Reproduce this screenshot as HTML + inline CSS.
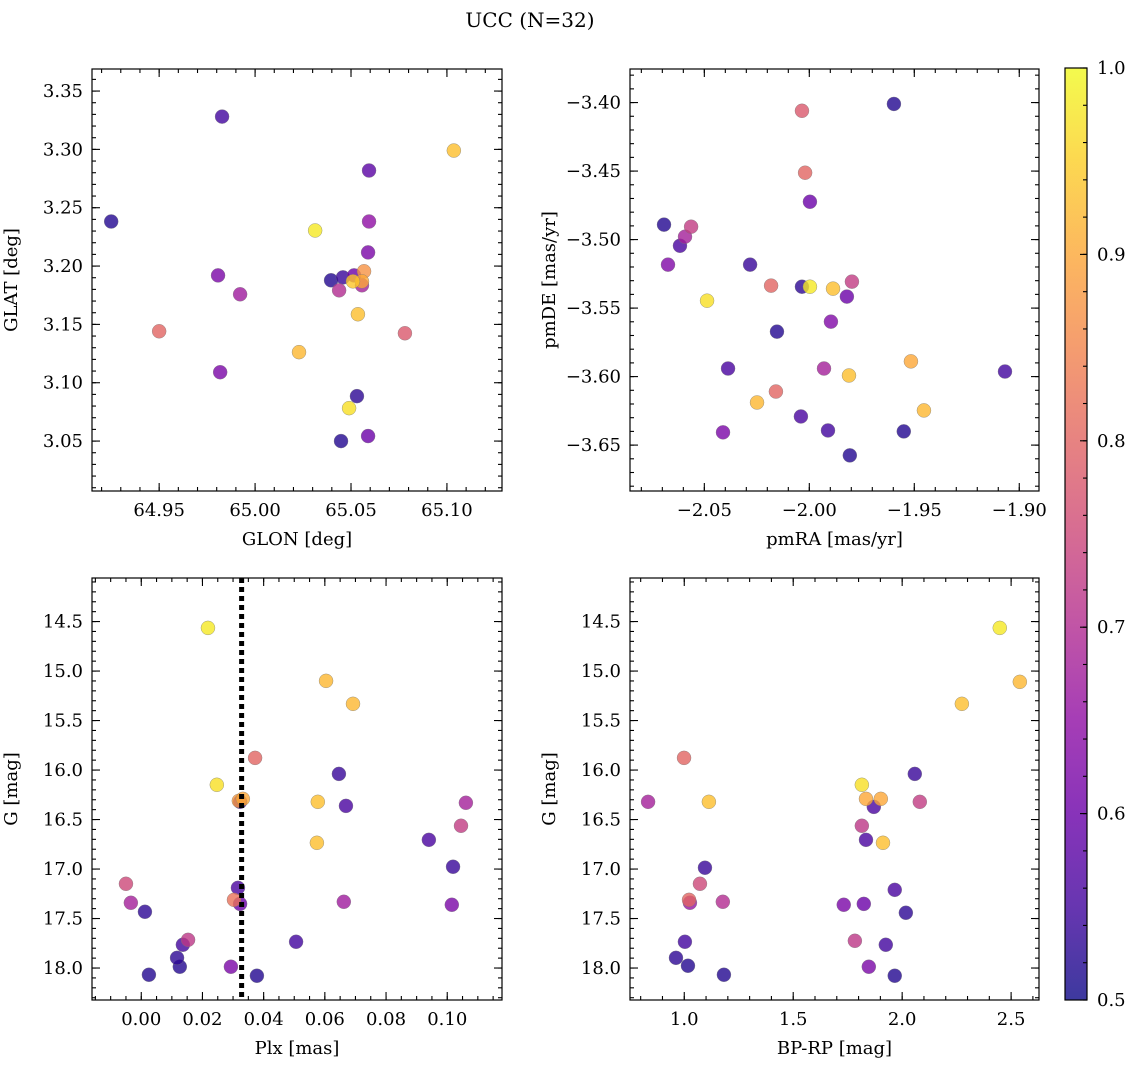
<!DOCTYPE html>
<html><head><meta charset="utf-8"><style>
body{margin:0;background:#fff;}
svg{display:block;font-family:"DejaVu Serif","Liberation Serif",serif;}
</style></head><body>
<svg id="fig" width="1136" height="1068" viewBox="0 0 1136 1068" xmlns="http://www.w3.org/2000/svg">
<rect width="1136" height="1068" fill="#fff"/>
<text x="530" y="27" font-size="20" text-anchor="middle">UCC (N=32)</text>
</svg>
<script>
// ---- data ----
const glonVals=[64.9828,65.1036,65.0594,64.925,65.0313,65.0594,65.0589,64.9807,64.9922,65.0396,65.0458,65.0516,65.0568,65.051,65.0557,65.0557,65.0438,65.0536,64.95,65.0781,65.0229,64.9818,65.0531,65.049,65.0448,65.0589];
const glatVals=[3.3281,3.299,3.2819,3.2382,3.2305,3.2382,3.2117,3.192,3.1758,3.1878,3.1903,3.192,3.1955,3.1869,3.1869,3.1835,3.1792,3.1587,3.1441,3.1424,3.1262,3.109,3.0885,3.0782,3.05,3.0543];
const probPos=[0.55,0.93,0.58,0.52,0.98,0.65,0.62,0.62,0.67,0.52,0.54,0.6,0.87,0.94,0.9,0.68,0.7,0.93,0.8,0.78,0.92,0.62,0.53,0.97,0.52,0.6];

const pmraVals=[-1.9597,-2.0035,-2.002,-1.9997,-2.0692,-2.0563,-2.0592,-2.0616,-2.0673,-2.0282,-2.0182,-2.0035,-1.9997,-1.9887,-1.9797,-1.9821,-2.0487,-2.0154,-1.9897,-1.9516,-2.0387,-1.993,-1.9811,-1.9068,-2.0159,-2.0249,-1.9454,-2.004,-2.0411,-1.9911,-1.955,-1.9807];
const pmdeVals=[-3.401,-3.406,-3.4512,-3.4724,-3.4891,-3.4906,-3.4979,-3.5045,-3.5183,-3.5183,-3.5336,-3.5344,-3.5344,-3.5358,-3.5307,-3.5416,-3.5446,-3.5672,-3.5599,-3.5889,-3.5941,-3.5941,-3.5992,-3.5963,-3.6109,-3.6189,-3.6247,-3.6291,-3.6407,-3.6393,-3.64,-3.6575];
const probPm=[0.52,0.78,0.8,0.6,0.52,0.73,0.68,0.56,0.63,0.54,0.8,0.53,0.98,0.93,0.73,0.6,0.97,0.52,0.63,0.9,0.56,0.68,0.93,0.55,0.8,0.92,0.92,0.56,0.62,0.55,0.52,0.52];

const plxVals=[0.0218,0.0604,0.0692,0.0372,0.0247,0.0332,0.0319,0.0646,0.0577,0.1061,0.0669,0.0323,0.0574,0.094,0.1045,0.1019,-0.005,-0.0034,0.0012,0.0316,0.0303,0.0323,0.0662,0.1015,0.0153,0.0136,0.0506,0.0117,0.0126,0.0293,0.0025,0.0378];
const gPlxVals=[14.564,15.099,15.331,15.877,16.149,16.291,16.311,16.039,16.321,16.331,16.362,16.321,16.735,16.705,16.563,16.977,17.149,17.341,17.432,17.19,17.311,17.352,17.331,17.361,17.715,17.765,17.735,17.897,17.987,17.987,18.068,18.078];
const probPlx=[0.98,0.92,0.92,0.8,0.97,0.9,0.88,0.54,0.93,0.68,0.56,0.55,0.93,0.56,0.73,0.54,0.75,0.68,0.53,0.56,0.82,0.6,0.67,0.62,0.72,0.55,0.55,0.53,0.52,0.62,0.52,0.52];
const plxLine=[0.0328];

const bprpVals=[2.448,2.540,2.274,0.999,2.058,1.815,1.834,1.902,1.870,0.834,1.113,2.081,1.815,1.834,1.912,1.095,1.966,1.072,1.022,1.026,1.177,1.732,1.824,2.017,1.783,1.003,1.925,0.962,1.017,1.847,1.182,1.966];
const gColVals=[14.564,15.109,15.331,15.877,16.039,16.149,16.291,16.291,16.372,16.321,16.321,16.321,16.563,16.705,16.735,16.987,17.21,17.149,17.311,17.341,17.331,17.361,17.352,17.442,17.725,17.735,17.765,17.897,17.977,17.987,18.068,18.078];
const probCol=[0.98,0.92,0.93,0.8,0.54,0.97,0.9,0.9,0.56,0.68,0.93,0.73,0.72,0.56,0.93,0.54,0.56,0.75,0.8,0.66,0.7,0.62,0.6,0.53,0.72,0.55,0.55,0.53,0.52,0.62,0.52,0.52];

const cbTicks=[0.5,0.6,0.7,0.8,0.9,1.0];

// ---- plumbing ----
const NS="http://www.w3.org/2000/svg";
const svg=document.getElementById('fig');
function mk(tag,attrs,parent){const e=document.createElementNS(NS,tag);for(const k in attrs)e.setAttribute(k,attrs[k]);(parent||svg).appendChild(e);return e;}
const stops=[[13,8,135],[65,4,157],[106,0,168],[143,13,164],[177,42,144],[204,71,120],[225,100,98],[242,132,75],[252,166,54],[252,206,37],[240,249,33]];
function plasma(t){t=Math.max(0,Math.min(1,t));const s=t*10,i=Math.min(9,Math.floor(s)),f=s-i;const a=stops[i],b=stops[i+1];return `rgb(${a.map((v,k)=>Math.round(v+(b[k]-v)*f)).join(',')})`;}
function cnorm(p){return (p-0.5)/0.5;}
function fmt(v,d){const s=Math.abs(v).toFixed(d);return (v<-1e-9?'−':'')+s;}
const FS=18;

function panel(name,box,xd,yd,xt,yt,xminor,yminor,xdec,ydec,xlabel,ylabel,xs,ys,ps,invert){
  const [L,T,R,B]=box;
  const X=v=>L+(v-xd[0])/(xd[1]-xd[0])*(R-L);
  const Y=invert?v=>T+(v-yd[0])/(yd[1]-yd[0])*(B-T):v=>B-(v-yd[0])/(yd[1]-yd[0])*(B-T);
  const g=mk('g',{});
  
  
  const idx=ps.map((p,i)=>i).sort((a,b)=>ps[a]-ps[b]);
  for(const i of idx){
    const c=mk('circle',{cx:X(xs[i]),cy:Y(ys[i]),r:7,fill:plasma(cnorm(ps[i])),'fill-opacity':0.8,stroke:'#777','stroke-width':0.5,'stroke-opacity':0.7},g);
    
    
  }
  const ax=mk('g',{stroke:'#000','stroke-width':1.1},g);
  
  
  function ticks(step,len,isX){
    const d=isX?xd:yd;const st=Math.ceil((d[0]-1e-9)/step);
    for(let k=st;k*step<=d[1]+1e-9;k++){const v=k*step;
      if(isX){const x=X(v);mk('line',{x1:x,x2:x,y1:B,y2:B-len},ax);mk('line',{x1:x,x2:x,y1:T,y2:T+len},ax);}
      else{const y=Y(v);mk('line',{x1:L,x2:L+len,y1:y,y2:y},ax);mk('line',{x1:R,x2:R-len,y1:y,y2:y},ax);}
    }}
  ticks(xminor,4,true);ticks(yminor,4,false);
  for(const v of xt){const x=X(v);mk('line',{x1:x,x2:x,y1:B,y2:B-8},ax);mk('line',{x1:x,x2:x,y1:T,y2:T+8},ax);
    const t=mk('text',{x:x,y:B+25,'font-size':FS,'text-anchor':'middle'},g);t.textContent=fmt(v,xdec);
    }
  for(const v of yt){const y=Y(v);mk('line',{x1:L,x2:L+8,y1:y,y2:y},ax);mk('line',{x1:R,x2:R-8,y1:y,y2:y},ax);
    const t=mk('text',{x:L-9,y:y+6,'font-size':FS,'text-anchor':'end'},g);t.textContent=fmt(v,ydec);
    }
  mk('rect',{x:L,y:T,width:R-L,height:B-T,fill:'none',stroke:'#000','stroke-width':1.2},g);
  const xl=mk('text',{x:(L+R)/2,y:B+54,'font-size':FS,'text-anchor':'middle'},g);xl.textContent=xlabel;
  
  const yx=L-75,yy=(T+B)/2;
  const yl=mk('text',{x:yx,y:yy,'font-size':FS,'text-anchor':'middle',transform:`rotate(-90 ${yx} ${yy})`},g);yl.textContent=ylabel;
  
  return {X,Y,g,T,B};
}

panel('glon-glat-panel',[92,69,502,491],[64.915,65.1287],[3.0072,3.3689],[64.95,65.0,65.05,65.10],[3.05,3.10,3.15,3.20,3.25,3.30,3.35],0.01,0.01,2,2,'GLON [deg]','GLAT [deg]',glonVals,glatVals,probPos,false);
panel('pm-panel',[630,69,1039,491],[-2.0854,-1.8906],[-3.6835,-3.3755],[-2.05,-2.0,-1.95,-1.90],[-3.65,-3.60,-3.55,-3.50,-3.45,-3.40],0.01,0.01,2,2,'pmRA [mas/yr]','pmDE [mas/yr]',pmraVals,pmdeVals,probPm,false);
const p3=panel('plx-g-panel',[92,578,502,1000],[-0.0161,0.1179],[14.06,18.323],[0.0,0.02,0.04,0.06,0.08,0.10],[14.5,15.0,15.5,16.0,16.5,17.0,17.5,18.0],0.005,0.1,2,1,'Plx [mas]','G [mag]',plxVals,gPlxVals,probPlx,true);
panel('cmd-panel',[630,578,1039,1000],[0.751,2.628],[14.06,18.323],[1.0,1.5,2.0,2.5],[14.5,15.0,15.5,16.0,16.5,17.0,17.5,18.0],0.1,0.1,1,1,'BP-RP [mag]','G [mag]',bprpVals,gColVals,probCol,true);
for(const v of plxLine){const x=p3.X(v);
  const l=mk('line',{x1:x,x2:x,y1:p3.T,y2:p3.B,stroke:'#000','stroke-width':5,'stroke-dasharray':'5 4'},p3.g);
  
  }

// colorbar
const cb=mk('g',{});


const cT=68,cB=1000,cL=1065,cR=1087;
const grad=mk('linearGradient',{id:'pl',x1:0,y1:1,x2:0,y2:0},mk('defs',{}));
for(let i=0;i<=20;i++)mk('stop',{offset:i/20,'stop-color':plasma(i/20)},grad);
mk('rect',{x:cL,y:cT,width:cR-cL,height:cB-cT,fill:'url(#pl)','fill-opacity':0.8},cb);
const CY=v=>cB-(v-0.5)/0.5*(cB-cT);
for(let k=25;k<=50;k++){const y=CY(k*0.02);mk('line',{x1:cR,x2:cR-4,y1:y,y2:y,stroke:'#000','stroke-width':1.1},cb);}
for(const v of cbTicks){const y=CY(v);mk('line',{x1:cR,x2:cR-7,y1:y,y2:y,stroke:'#000','stroke-width':1.1},cb);
  const t=mk('text',{x:cR+10,y:y+6,'font-size':FS},cb);t.textContent=v.toFixed(1);
  }
mk('rect',{x:cL,y:cT,width:cR-cL,height:cB-cT,fill:'none',stroke:'#000','stroke-width':1.2},cb);
</script>
</body></html>
